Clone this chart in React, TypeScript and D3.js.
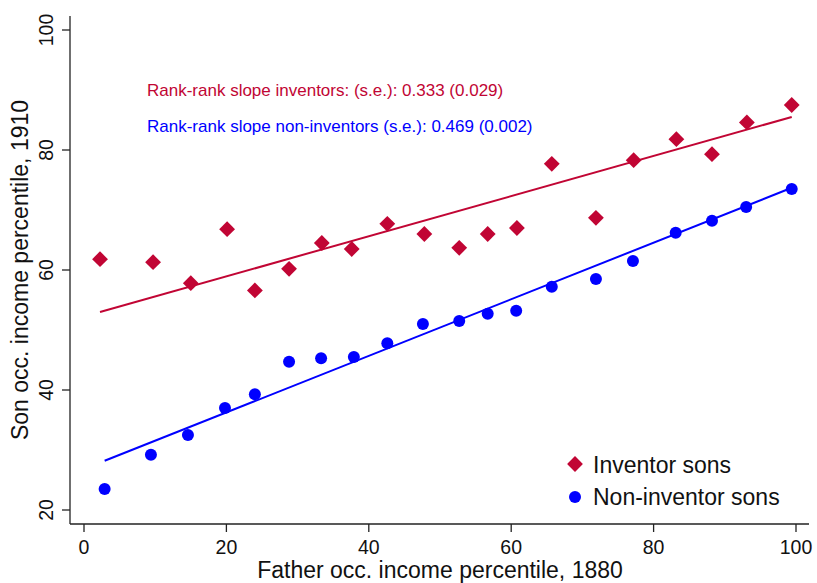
import React from "react";
import * as d3 from "d3";

const inventorX = [2.25, 9.7, 15.0, 20.1, 24.0, 28.8, 33.4, 37.6, 42.6, 47.8, 52.7, 56.7, 60.8, 65.7, 71.9, 77.2, 83.2, 88.2, 93.1, 99.4];
const inventorY = [61.8, 61.3, 57.8, 66.8, 56.6, 60.2, 64.5, 63.5, 67.7, 66.0, 63.7, 66.0, 67.0, 77.7, 68.7, 78.3, 81.8, 79.3, 84.6, 87.5];
const nonInvX = [2.9, 9.4, 14.6, 19.8, 24.0, 28.8, 33.3, 37.9, 42.6, 47.6, 52.7, 56.7, 60.7, 65.7, 71.9, 77.1, 83.1, 88.2, 93.0, 99.4];
const nonInvY = [23.5, 29.2, 32.5, 37.0, 39.3, 44.7, 45.3, 45.5, 47.8, 51.0, 51.5, 52.7, 53.2, 57.2, 58.5, 61.5, 66.2, 68.2, 70.5, 73.5];
const fitInventors: [number, number][] = [[2.25, 53.0], [99.4, 85.5]];
const fitNonInv: [number, number][] = [[2.9, 28.2], [99.4, 73.7]];
const xTicks = [0, 20, 40, 60, 80, 100];
const yTicks = [20, 40, 60, 80, 100];
const annoInventors = "Rank-rank slope inventors: (s.e.): 0.333 (0.029)";
const annoNonInv = "Rank-rank slope non-inventors (s.e.): 0.469 (0.002)";
const legendLabels = ["Inventor sons", "Non-inventor sons"];
const xTitle = "Father occ. income percentile, 1880";
const yTitle = "Son occ. income percentile, 1910";

const RED = "#c10534";
const BLUE = "#0000ff";
const FONT = "'Liberation Sans', Arial, Helvetica, sans-serif";

export default function App() {
  const W = 817, H = 583;
  const x = d3.scaleLinear().domain([0, 100]).range([84, 796]);
  const y = d3.scaleLinear().domain([20, 100]).range([510, 30]);
  const line = d3.line<[number, number]>().x(d => x(d[0])).y(d => y(d[1]));
  const diamond = d3.symbol().type(d3.symbolSquare).size(125)()!;
  const axisX0 = 70, axisY0 = 524;

  return (
    <svg width={W} height={H} style={{ position: "absolute", left: 0, top: 0, background: "#fff" }} fontFamily={FONT}>
      <rect width={W} height={H} fill="#fff" />
      {/* axes */}
      <line x1={axisX0} x2={axisX0} y1={16} y2={axisY0} stroke="#222" strokeWidth={1.3} />
      <line x1={axisX0} x2={809} y1={axisY0} y2={axisY0} stroke="#222" strokeWidth={1.3} />
      {yTicks.map(t => (
        <g key={"y" + t}>
          <line x1={62} x2={axisX0} y1={y(t)} y2={y(t)} stroke="#222" strokeWidth={1.3} />
          <text transform={`translate(53,${y(t)}) rotate(-90)`} textAnchor="middle" fontSize={19.5} fill="#111">{t}</text>
        </g>
      ))}
      {xTicks.map(t => (
        <g key={"x" + t}>
          <line x1={x(t)} x2={x(t)} y1={axisY0} y2={532} stroke="#222" strokeWidth={1.3} />
          <text x={x(t)} y={554} textAnchor="middle" fontSize={19.5} fill="#111">{t}</text>
        </g>
      ))}
      <text x={440} y={578} textAnchor="middle" fontSize={23} fill="#111">{xTitle}</text>
      <text transform={`translate(28,270) rotate(-90)`} textAnchor="middle" fontSize={23} fill="#111">{yTitle}</text>

      {/* fit lines */}
      <path d={line(fitInventors)!} stroke={RED} strokeWidth={2} fill="none" />
      <path d={line(fitNonInv)!} stroke={BLUE} strokeWidth={2} fill="none" />

      {/* points */}
      {inventorX.map((v, i) => (
        <path key={"i" + i} d={diamond} fill={RED} transform={`translate(${x(v)},${y(inventorY[i])}) rotate(45)`} />
      ))}
      {nonInvX.map((v, i) => (
        <circle key={"n" + i} cx={x(v)} cy={y(nonInvY[i])} r={6} fill={BLUE} />
      ))}

      {/* annotations */}
      <text x={147} y={96} fontSize={17} fill={RED}>{annoInventors}</text>
      <text x={147} y={132} fontSize={17} fill={BLUE}>{annoNonInv}</text>

      {/* legend */}
      <path d={diamond} fill={RED} transform={`translate(575,464) rotate(45)`} />
      <text x={593} y={473} fontSize={23} fill="#111">{legendLabels[0]}</text>
      <circle cx={575} cy={497} r={6} fill={BLUE} />
      <text x={593} y={505} fontSize={23} fill="#111">{legendLabels[1]}</text>
    </svg>
  );
}
